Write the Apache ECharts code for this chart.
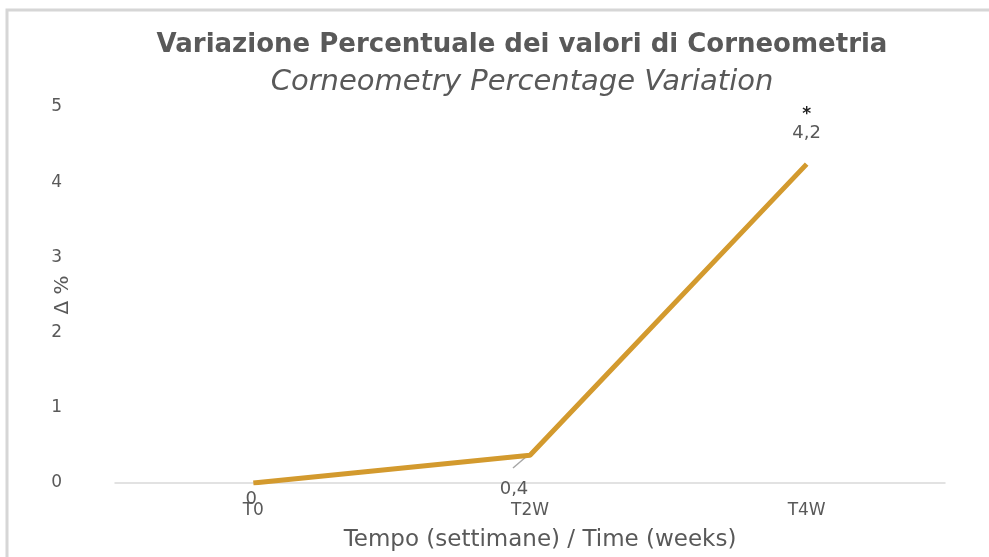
<!DOCTYPE html>
<html>
<head>
<meta charset="utf-8">
<script src="https://cdn.jsdelivr.net/npm/echarts@6/dist/echarts.min.js"></script>
<style>
  html, body { margin: 0; padding: 0; background: #fff; }
  #chart { width: 989px; height: 557px; }
</style>
</head>
<body>
<div id="chart"></div>
<script>
var categories = ["T0", "T2W", "T4W"];
var values = [0, 0.37, 4.24];
var yTicks = [0, 1, 2, 3, 4, 5];

var chart = echarts.init(document.getElementById('chart'));

function fmt(v) {
    return (Math.round(v * 10) / 10).toString().replace('.', ',');
}

var seriesData = values.map(function (v, i) {
    var item = { value: v };
    if (i == 0) {
        item.label = { position: 'bottom', offset: [-2, 1] };
    } else if (i == 1) {
        item.label = { position: 'bottom', offset: [-16, 19] };
    } else {
        item.label = {
            position: 'top',
            offset: [0, -16],
            formatter: function (p) { return '{s|*}\n' + fmt(p.value); }
        };
    }
    return item;
});

chart.setOption({
    backgroundColor: '#fff',
    textStyle: { fontFamily: 'DejaVu Sans' },
    graphic: [{
        type: 'rect',
        shape: { x: 7, y: 10, width: 1100, height: 700 },
        style: { fill: 'none', stroke: '#d6d6d6', lineWidth: 3 },
        silent: true
    }, {
        type: 'line',
        shape: { x1: 513, y1: 468, x2: 527, y2: 456 },
        style: { stroke: '#a6a6a6', lineWidth: 1.5 },
        silent: true
    }],
    title: {
        text: 'Variazione Percentuale dei valori di Corneometria',
        subtext: 'Corneometry Percentage Variation',
        left: 517,
        textAlign: 'center',
        top: 27,
        itemGap: 10,
        textStyle: { fontFamily: 'DejaVu Sans', fontSize: 26, fontWeight: 'bold', color: '#595959' },
        subtextStyle: { fontFamily: 'DejaVu Sans', fontSize: 29, fontStyle: 'italic', color: '#595959' }
    },
    grid: { left: 115, right: 44, top: 107, bottom: 74 },
    xAxis: {
        type: 'category',
        data: categories,
        name: 'Tempo (settimane) / Time (weeks)',
        nameLocation: 'middle',
        nameGap: 46,
        nameTextStyle: { fontSize: 23, color: '#595959', padding: [0, 0, 0, 20] },
        axisLine: { lineStyle: { color: '#d9d9d9', width: 1.5 } },
        axisTick: { show: false },
        axisLabel: { fontSize: 17, color: '#595959', margin: 19 }
    },
    yAxis: {
        type: 'value',
        min: 0,
        max: 5,
        interval: 1,
        name: 'Δ %',
        nameLocation: 'middle',
        nameGap: 42,
        nameMoveOverlap: false,
        nameRotate: 90,
        nameTextStyle: { fontSize: 20, color: '#595959' },
        axisLine: { show: false },
        axisTick: { show: false },
        splitLine: { show: false },
        axisLabel: {
            fontSize: 17, color: '#595959', margin: 53,
            formatter: function (v) { return yTicks.indexOf(v) >= 0 ? String(v) : ''; }
        }
    },
    series: [{
        type: 'line',
        data: seriesData,
        symbol: 'circle',
        symbolSize: 2,
        showSymbol: true,
        itemStyle: { color: 'rgba(0,0,0,0)', borderWidth: 0 },
        lineStyle: { color: '#d39a2e', width: 5 },
        label: {
            show: true,
            fontSize: 18,
            color: '#595959',
            formatter: function (p) { return fmt(p.value); },
            rich: { s: { fontSize: 17, fontWeight: 'bold', color: '#222', lineHeight: 20 } }
        }
    }]
});
</script>
</body>
</html>
